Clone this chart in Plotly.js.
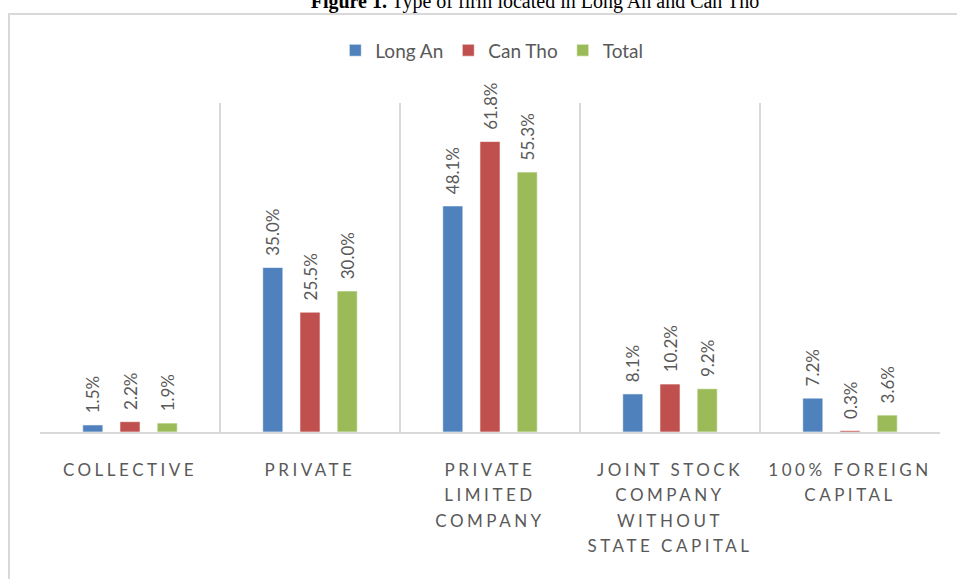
<!DOCTYPE html>
<html>
<head>
<meta charset="utf-8">
<script src="https://cdn.plot.ly/plotly-3.0.1.min.js"></script>
<style>
  html, body { margin:0; padding:0; background:#ffffff; overflow:hidden; }
  #frame { position:absolute; left:8px; top:13px; width:1000px; height:620px; border:2px solid #d9d9d9; box-sizing:border-box; }
  #chart { position:absolute; left:0; top:0; width:957px; height:579px; }
  #chart .xtick text { letter-spacing:3.5px; }
</style>
</head>
<body>
<div id="frame"></div>
<div id="chart"></div>
<script>
const categories = [
  "COLLECTIVE",
  "PRIVATE",
  "PRIVATE<br>LIMITED<br>COMPANY",
  "JOINT STOCK<br>COMPANY<br>WITHOUT<br>STATE CAPITAL",
  "100% FOREIGN<br>CAPITAL"
];
const longAn = [1.5, 35.0, 48.1, 8.1, 7.2];
const canTho = [2.2, 25.5, 61.8, 10.2, 0.3];
const total  = [1.9, 30.0, 55.3, 9.2, 3.6];
const seriesNames = ["Long An", "Can Tho", "Total"];
const seriesColors = ["#4f81bd", "#c0504d", "#9bbb59"];
const seriesData = [longAn, canTho, total];

const fam = "Lato, 'Open Sans', sans-serif";
const labelFont = { family: fam, size: 17, color: "#595959" };

const traces = seriesData.map((vals, i) => ({
  type: "bar",
  name: seriesNames[i],
  x: categories,
  y: vals,
  text: vals.map(v => "\u00A0\u00A0" + v.toFixed(1) + "%"),
  textposition: "outside",
  textangle: -90,
  constraintext: "none",
  cliponaxis: false,
  textfont: labelFont,
  marker: { color: seriesColors[i], line: { color: "rgba(255,255,255,0.6)", width: 1 } },
  hoverinfo: "skip"
}));

const layout = {
  width: 957, height: 579, autosize: false,
  paper_bgcolor: "rgba(0,0,0,0)", plot_bgcolor: "rgba(0,0,0,0)",
  margin: { l: 40, r: 17, t: 103, b: 147 },
  font: { family: fam, color: "#595959" },
  title: {
    text: "<b>Figure 1.</b> Type of firm located in Long An and Can Tho",
    font: { family: "'Liberation Serif', 'Times New Roman', serif", size: 20, color: "#000000" },
    xref: "container", x: 0.559, xanchor: "center",
    yref: "container", y: 0.999, yanchor: "middle"
  },
  showlegend: true,
  legend: {
    orientation: "h", x: 0.502, xanchor: "center",
    yref: "container", y: 0.913, yanchor: "middle",
    font: { family: fam, size: 19, color: "#595959" },
    itemwidth: 30, traceorder: "normal"
  },
  barmode: "group",
  bargap: 0.38,
  bargroupgap: 0.46,
  xaxis: {
    type: "category",
    tickson: "boundaries",
    showgrid: true, gridcolor: "#d9d9d9", gridwidth: 1.5,
    showline: true, linecolor: "#d9d9d9", linewidth: 1.5,
    ticks: "", ticklabelstandoff: 22,
    tickfont: { family: fam, size: 17, color: "#595959" },
    fixedrange: true
  },
  yaxis: {
    range: [0, 70],
    visible: false, showgrid: false, zeroline: false,
    fixedrange: true
  }
};

Plotly.newPlot("chart", traces, layout, { staticPlot: true, displayModeBar: false }).then(gd => {
  // widen the line spacing of the multi-line category labels (each line's dy is measured from the same y)
  gd.querySelectorAll(".xtick text").forEach(txt => {
    txt.querySelectorAll("tspan.line").forEach((t, k) => {
      t.setAttribute("dy", (k * 1.5).toFixed(2) + "em");
    });
  });
});
</script>
</body>
</html>
